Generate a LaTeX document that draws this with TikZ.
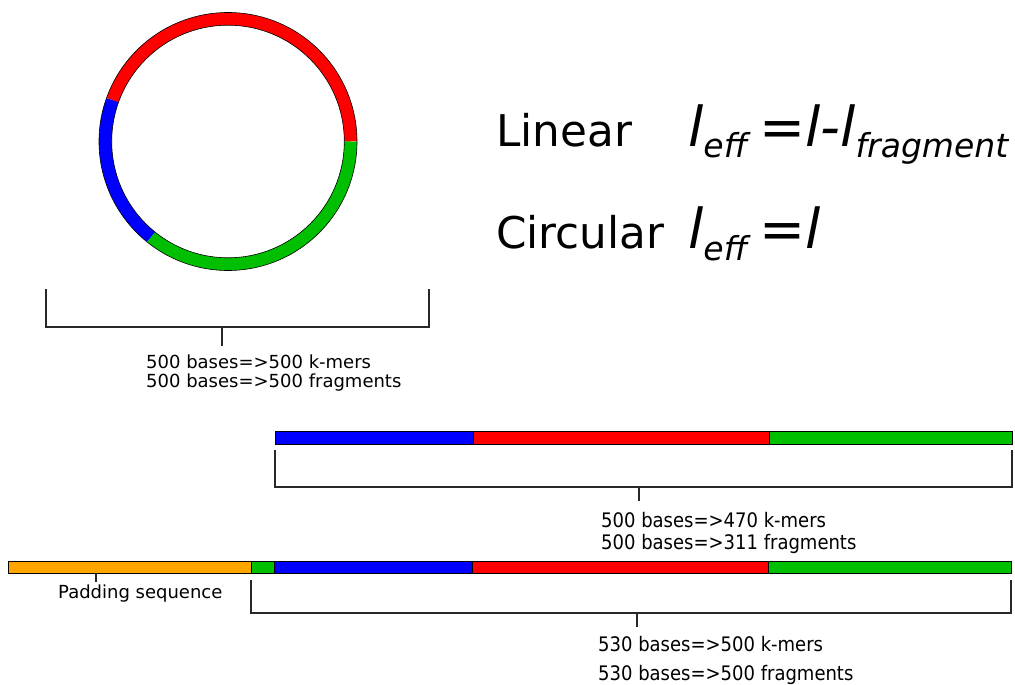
\documentclass[tikz,border=0pt]{standalone}
\usepackage{fontspec}
\setmainfont{DejaVu Sans}
\newfontfamily\condfont[FakeStretch=0.9]{DejaVu Sans}
\definecolor{cred}{RGB}{255,0,0}
\definecolor{cblue}{RGB}{0,0,255}
\definecolor{cgreen}{RGB}{0,191,0}
\definecolor{corange}{RGB}{255,165,0}
\definecolor{lineg}{RGB}{40,40,40}
\newcommand\subtxt[1]{\raisebox{-12pt}{\fontsize{33}{36}\selectfont\itshape #1}}
\begin{document}
\begin{tikzpicture}[x=1pt,y=-1pt,
  seg/.style={draw=black,line width=0.7pt},
  brk/.style={draw=lineg,line width=1.1pt},
  small/.style={inner sep=0pt,anchor=base west,font=\fontsize{18}{20}\selectfont},
  cond/.style={inner sep=0pt,anchor=base west,font=\condfont\fontsize{20}{22}\selectfont},
  big/.style={inner sep=0pt,anchor=base west,font=\fontsize{43.7}{48}\selectfont},
  formula/.style={inner sep=0pt,anchor=base west,font=\fontsize{55}{60}\selectfont},
  ring/.style={line width=12.7pt},
]
\useasboundingbox (0,0) rectangle (1015,685);

% circular genome
\begin{scope}[shift={(228pt,-141.5pt)}]
  \draw[ring,cred]   (0:122.65pt) arc[start angle=0,end angle=160.3,radius=122.65pt];
  \draw[ring,cblue]  (160.3:122.65pt) arc[start angle=160.3,end angle=231.2,radius=122.65pt];
  \draw[ring,cgreen] (231.2:122.65pt) arc[start angle=231.2,end angle=360,radius=122.65pt];
  \draw[black,line width=0.6pt] (0pt,0pt) circle[radius=129pt];
  \draw[black,line width=0.6pt] (0pt,0pt) circle[radius=116.3pt];
\end{scope}

% formulas
\node[big] (lin) at (496,146) {Linear};
\node[formula] (flin) at (688,146) {{\itshape l}\subtxt{eff}\hspace{11.5pt}={\itshape l-l}\subtxt{fragment}};
\node[big] (circ) at (496,248) {Circular};
\node[formula] (fcirc) at (688,248) {{\itshape l}\subtxt{eff}\hspace{11.5pt}={\itshape l}};

% top bracket
\draw[brk] (46,289) -- (46,327) -- (429,327) -- (429,289);
\draw[brk] (222,327) -- (222,346);
\node[small] (t1) at (146,368) {500 bases=>500 k-mers};
\node[small] (t2) at (146,387) {500 bases=>500 fragments};

% linear bar
\draw[seg,fill=cblue]  (275,431) rectangle (473,444);
\draw[seg,fill=cred]   (473,431) rectangle (769,444);
\draw[seg,fill=cgreen] (769,431) rectangle (1012,444);
\draw[brk] (275,450) -- (275,487) -- (1012,487) -- (1012,450);
\draw[brk] (639,487) -- (639,501);
\node[cond] (m1) at (601,527) {500 bases=>470 k-mers};
\node[cond] (m2) at (601,549) {500 bases=>311 fragments};

% padded bar
\draw[seg,fill=corange] (8,561) rectangle (251,573);
\draw[seg,fill=cgreen]  (251,561) rectangle (274,573);
\draw[seg,fill=cblue]   (274,561) rectangle (472,573);
\draw[seg,fill=cred]    (472,561) rectangle (768,573);
\draw[seg,fill=cgreen]  (768,561) rectangle (1011,573);
\draw[brk] (96,573) -- (96,582);
\node[small] (pad) at (58,598) {Padding sequence};
\draw[brk] (251,580) -- (251,613) -- (1011,613) -- (1011,580);
\draw[brk] (637,613) -- (637,627);
\node[cond] (b1) at (598,651) {530 bases=>500 k-mers};
\node[cond] (b2) at (598,680) {530 bases=>500 fragments};
\end{tikzpicture}
\end{document}
